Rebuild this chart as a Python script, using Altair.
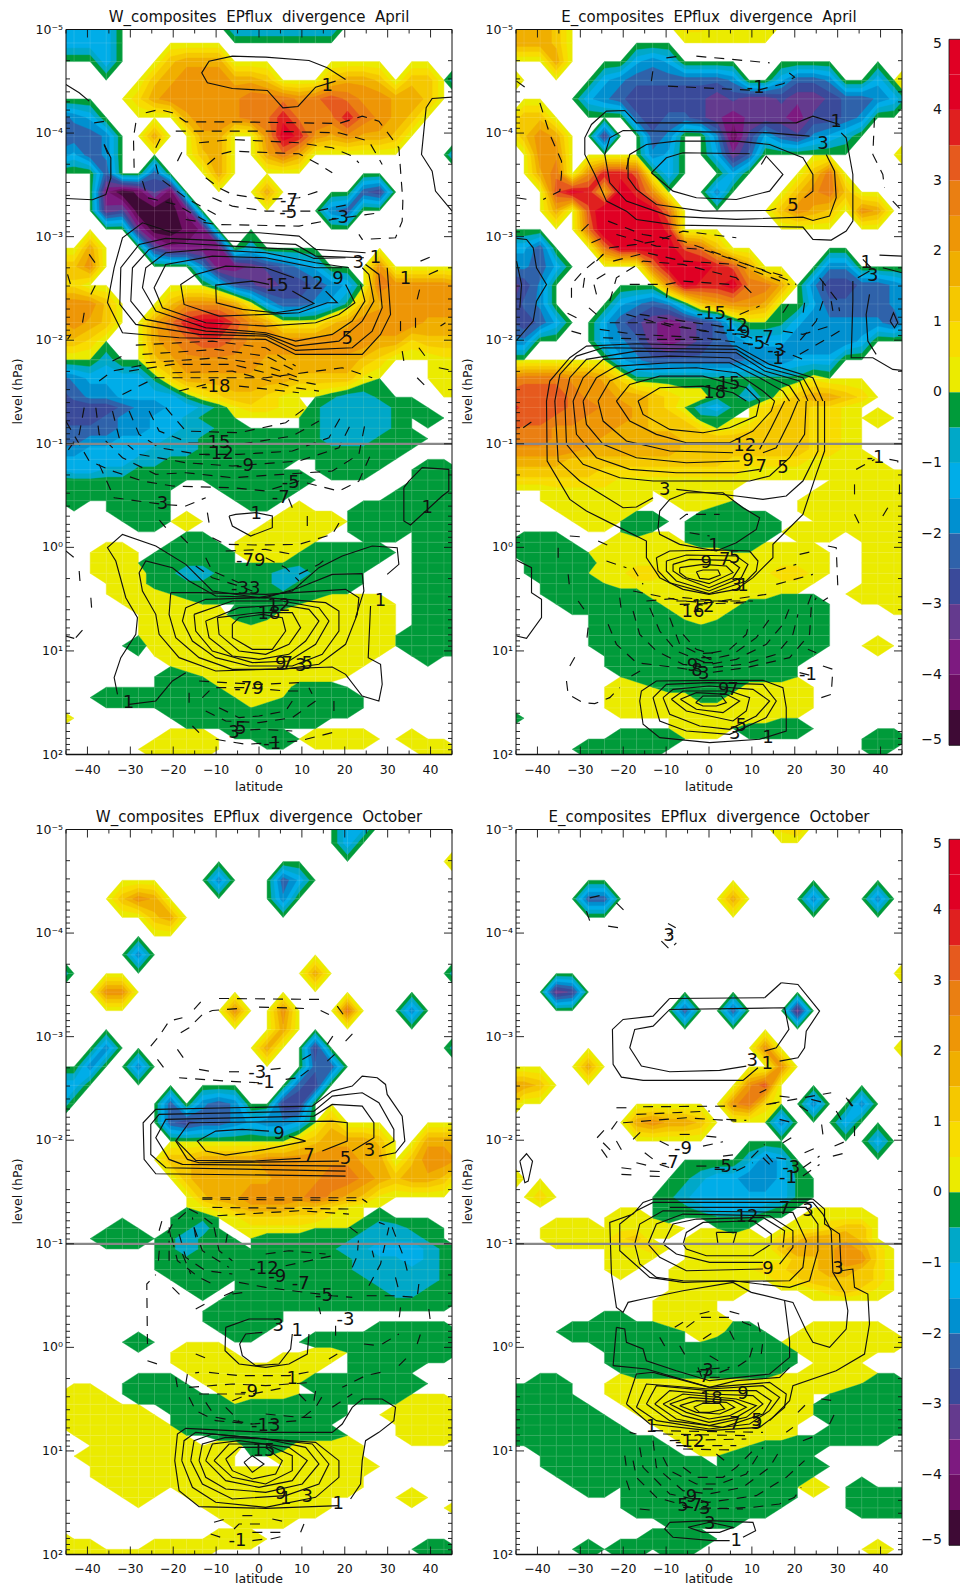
import altair as alt
import pandas as pd

alt.data_transformers.disable_max_rows()

# ---------- grid of the field ----------
LATS = [-46.875,-43.125,-39.375,-35.625,-31.875,-28.125,-24.375,-20.625,-16.875,-13.125,-9.375,-5.625,-1.875,
        1.875,5.625,9.375,13.125,16.875,20.625,24.375,28.125,31.875,35.625,39.375,43.125,46.875]
LEVS = [-5.05,-4.87,-4.69,-4.51,-4.33,-4.15,-3.97,-3.79,-3.61,-3.43,-3.25,-3.07,-2.89,-2.71,-2.53,-2.35,-2.17,-1.99,-1.81,-1.63,-1.45,
        -1.35,-1.25,-1.15,-1.05,-0.95,-0.85,-0.75,-0.65,-0.55,-0.45,-0.35,-0.25,-0.15,-0.05,0.05,0.15,0.25,0.35,0.45,0.55,0.65,0.75,0.85,0.95,
        1.05,1.15,1.25,1.35,1.45,1.55,1.65,1.75,1.85,1.95,2.05]

# one character per grid point: . = not significant, 1-9,a = positive half-unit band, A-J = negative half-unit band
GRID_A = [
"CCCC.......CCCCCCC........","CCCC......................","...C...3444...............","......34555443...3443.33.C",
".....2455555666567655443..","EDC.....455566866686543...","EEED..4..44..598545443....","DCED.....34..464.........D",
"...E..E...4...............","...HJIFI.....4.....EF.....","...GFJJJH........DE.......",".....GJJIH................",
"..4...FHHHH.B.............","335......DHHGFEDC...5.....","22........BEFGFFEDC.655554","5553...355541CEEDCA3455555",
"4543..46899754111345555444","332...45677655555555442333","...B..345555544444432...11","EDCCCCA2444444433331....11",
"FEDDCCCCA123321..ABBA.....",
"FFFFEDDCCBA12211ABBBBAA...","FFFEDDCCBAA.....ABBBBA.A..","EEEEDDCCBBAA....ABBBBA....","EEDDCCCBBAAAAAAAABBBAAA...",
"DDCCCCBBBAAAAAAAAAAAAA....","CCCCCBBAAAAAAAA..AAAA.....","BCCBBAAAAAAAAA...AAA...AA.","AAAAAAAA..AAAAAA.......AAA",
"AAAAAAA....AAAA.......AAAA",".A..AAA.....AA.......AAAAA","....AAA........1...AAAAAAA",".....AA.1.....1111.AAAAAAA",
".............1111..AAA.AAA","........AA..1111.......AAA","...11..AAAA.111.AAAAA..AAA","...11.AAAAA....AAAAA...AAA",
"...111AABBAAAABBAAA....AAA","....11AAAAAAAABAAAA....AAA","....111.AAAAAAAAA......AAA",".....1111...AAA.11111..AAA",
"......11111AAA1111111..AAA","......111111.11111111..AAA","......111111111111111.AAAA",".....A111111111111111.AAAA",
".......1111111111111...A..","........11111111111.......",".......AA.11111111........",".......AAA.1111AAA........",
"...AAAAAAAA.11.AAAA.......",".......AAAAA.AAAAAA.......","1.......AAAAAAAAA.........","...........AAA............",
".......111...AA.1111..1...","......1111.............11.","..........................",
]
GRID_B = [
"4443.......221111.........","4443......................","...4....CDC...............","2.....CDEEEEEED..CEED..C.2",
".....CDEFFFFFGFGGFGGFEEDC.",".33.....EFEEFGHGGGHFFED...",".354..F..ED..DIFCEFDCB....","..55.....DC..CGE.........2",
"..46.5887.C...C....36.....","...7984985...D....3563....","...4.7aa996......3543.54..",".....6aa998...............",
"CCE...69999763............","DDEC.....6999874....DD....","GFD.......59889664.DFFEEDC","GED....CDEDA34554..CEEEEDC",
"EFEC..CEFGHGFEB..ACDDDDDEC","DD....CDEGHGFEDCCCDDDDC...",".......CDEEEEEEDDDCCC.....","56665542AAAAAAAAAAA1......",
"7777655443211AABA134432....",
"87776655432.BCA.233221....","777665554332AA..233221.1..","7665555443332.12333221....","6665554444433333333221....",
"5555544444433333333221....","44443333333333222221111...","333333222222222111111111..","222222211111111......11111",
"...111111.1111......111111","...111111..111.....1111111","....1111.....AA....1111111",".....11.AA..AAAAA...111111",
"........A...AAAAA.111.1111",".AAA...1111.AAAA.......111",".AAAA.11111111..1111...111","..AAAA11111111111111...111",
"..AAA.11221111111221...111","...AAA.111111111111....111","...AAAAAA11111111.....1111","....AAAAAA11111AAAAA....11",
"......AAAAA111AAAAAA......","......AAAAAA.AAAAAAA......","......AAAAAA.AAAAAAA......","......AAAAAAAAAAAAAA...1..",
".......AAAAAAAAAAAA.......",".......AAAAAAAAAAA........","........AAAAAAAAAA........",".......11.AAAAA1111.......",
".......11111AA11111.......",".......111111111111.......","A..........111111.........","...........111.AAAA.......",
".......AAAA............AA.",".....AAAAA.............A..","..........................",
]
GRID_C = [
"..................CC......","..................C.......",".........................2","..........D...EC..........",
"....354.......D...........","......34..................","..........................",".....D....................",
"C...............4........C","...55.....................","...........5..5...6...D...","..............4...........",
"...D.........4..F........C","..D..D..........EE........","CC.............EF.........","C......E.DED..FF..........",
".......EFEEDCDDC.3........","...............234443..444",".......33444455555544.3554","........34444455566543443.",
".........344555565431.....",
".........1234443321.......","........AA.12222211.A.....","....A...AB..1111...ABBAA..","...AAA.ABAA..AAAAAABBBBA..",
".......ABAAA.AAAAABBCCCBA.",".......AAAAA.AAAAAABBBCBA.",".......AAAA.AAAAAAABBBBBA.","........AAA.AAAAAAAABBBBA.",
".........A..AAAAAAAAABBAA.","...........AAAAAAAAAAAAAA.","..........AAAA............","..........AAAA............",
"...........AA.......AAAAA.",".....A..........AAAAAAAAA.","........111.....11.AAAAAA.","........1111..111..AAAA...",
".........1111111...AA.....",".....AAA..11111.AAAAAAA...",".11..AAAA..1111..AAAAA....","1111...AAAA.AAAAAA....111.",
"111111..AAAAAAAAAA...1111.",".111111.AAAAAAAAA.....111.","..111111..AAAAAAAA....111.","...111111.11AAA1111.......",
"..111111.11...11111.......","...11111111.....1111......","...1111111111111111.......","....111.11111111111.......",
".....1...11111111.....1...","..........1111111........1","...........1111...........","..........................",
"1.........111.............","111...1111.............AA.","11111111..................",
]
GRID_D = [
".................23.......","..........................","..........................","..........................",
".....EE.......4....D...D..","..........................","..........................","..........................",
".........................3","...GF.....................","...........E..E...G.......","..........................",
"................5........3",".....4...........5........","443............57.........","3.............562..D..D...",
"........45443....D...C....",".......................C..","...............BDC........","2..........ABCCDDCA.......",
"..2.......ABCCCCCCA.......",
"..........AABCCCBA........",".......11.A..AAA...1111...","...111.1111...A...11233...","...111123...1111.234443...",
".......112..1111.3444542..",".......11...111111334552..",".......1...1111122334432..","...........1111..2233332..",
"...........1111....12321..","..........111.............","..........111.............","......AA..1111............",
"....AAAAAAA.11AA...11111..","......AAAAA..AAAA.1111111.",".......AAAAAAAAAAA.1111...",".......AAAAAAAAAAA..11....",
"........AAAAAAAAA..1111...","..AA...111111111111111.AA.","AAAA...111111111111..AAAAA","AAAAA...11111111111.AAAAAA",
"AAAAAA...1111111111.AAAAAA","AAAAAAA...11111111...AAAAA","AAAAAAAA...1111111..AAAA..","..AAAAAAAA..111.AAAA......",
"...AAAAAAAA...AAAAA.......","...AAAAAAAAAA.AAAAAA......","....AAAAAAAAAAAAAAA.......",".....AA.AAAAAAAAAA.1..A...",
"........AAAAAAAAAA....AAAA","........AAAAAAAAA.....AAAA","..........AAAAA...........","...........A..............",
".........AAAA.............",".....A.AA.AA...........1..","..........................",
]

BAND_POS = ["#EBEB00","#F8DC00","#F5C800","#F0AF00","#EE9606","#EA7F12","#E65A1E","#E0201F","#E00024","#E00024"]
BAND_NEG = ["#009B3A","#00A8C8","#00ADE8","#0090D0","#2F62AA","#3A4A9A","#643A8E","#7D1A80","#6D0E63","#3E0A35"]
LEVELS = [0,0.5,1,1.5,2,2.5,3,3.5,4,4.5]

# ---------- digitised contours: X, Y pairs ----------
A_SOLID = [
[1040,235,985,200,930,178,800,168,700,165,630,180,608,215,625,245,700,262,805,268,852,320,897,316,950,258,1010,240],
[1360,288,1300,292,1282,320,1268,460,1300,510,1310,570,1360,630],[200,250,240,275,270,300],
[200,592,280,596,320,580,335,530,335,470,315,430],
[1100,755,950,745,900,705,780,695,520,695,430,665,370,710,345,800,325,905,370,995,540,1010,800,1015,890,1060,1090,1060,1145,1000,1175,940,1165,800],
[1095,770,950,765,890,730,700,720,500,712,420,730,365,800,362,910,410,970,600,1000,800,1005,890,1048,1060,1040,1120,990,1150,920,1140,820,1100,790],
[1040,770,945,772,880,745,700,735,520,725,450,745,400,800,395,900,440,955,620,990,800,1000,890,1035,1020,1020,1090,960,1125,900,1110,820,1090,800],
[1050,800,950,785,800,755,620,745,500,755,440,800,430,860,470,930,620,980,800,995,890,1020,1000,1000,1060,960,1098,900,1085,850],
[1030,800,950,800,800,770,640,765,500,790,465,860,490,920,620,965,800,975,950,965,1020,940,1068,905,1040,850],
[885,830,800,800,680,795,590,820,545,850,555,910,660,945,800,940,900,935,985,905,1015,905,980,870],
[810,850,760,840,650,852,652,905,730,925,830,935,900,925,945,907,880,870],
]
A_DASH = [
[410,365,403,410,405,500],[440,335,480,325,520,335,560,362,700,362,900,365,1020,367,1090,345,1140,360,1200,440,1212,600,1210,660,1190,710,1090,715,1080,700],
[530,390,800,390,1020,395,1110,420,1150,490],[600,425,700,415,900,425,1000,440,1060,465,1080,485],[625,490,660,460,700,450,900,458,960,490,1000,515],
[535,480,550,450],[470,440,490,400],[620,530,660,560,700,580,800,595,900,590,975,565],[640,590,700,615,800,630,950,630,1050,610],
[560,655,650,670,900,675,1000,655,1140,635],[285,365,320,360],[315,430,330,470],[430,540,445,590,530,610,620,660],[470,490,480,530,560,590,650,640],
[270,760,295,795],[275,880,290,850],[255,935,250,965],[205,1015,215,1000],[205,820,220,870],[1265,780,1300,765],[1290,820,1335,800],[1255,895,1265,855],
[1205,960,1205,1000],[1250,950,1250,985],[1325,975,1340,965],[1260,1040,1290,1080],[1210,1050,1215,1080],[1320,1100,1360,1108],
[410,1032,640,1020,800,1040,890,1095],[430,1060,650,1045,800,1065,890,1110],[440,1085,660,1070,790,1090,900,1130],[390,1110,520,1090,700,1090,900,1140,950,1150],
[340,1080,380,1060],[520,1115,700,1110,890,1160,960,1170],[300,1140,340,1110,440,1090],[370,1180,470,1130,590,1130,800,1130,1030,1100,1120,1130],[540,1170,620,1150],[720,1155,900,1175],[1255,1130,1290,1165],
]
A_SOLID_L = [
[355,880,345,830,365,770,410,700,415,650,380,590,350,480,325,440,370,400,470,435,560,490,640,570,780,590,880,570,960,500,1030,465,1120,435,1195,440,1200,490,1165,520],
[420,515,440,480,520,500,570,540,650,585,800,590,900,560,1000,520,1090,518,1095,570,1070,650],
[420,515,430,570,470,640,480,700,540,770,650,810,800,805,1000,798,1040,820,1090,885,1140,900,1150,850,1145,790,1108,770,1115,615],
[515,575,510,640,530,710,600,770,700,805,850,805,960,790,1040,730,1075,640,1080,590,1040,565,800,580,600,575,515,575],
[560,620,550,660,580,720,650,770,750,795,880,795,970,760,1020,690,1020,630,980,605,800,590,620,595,560,620],
[585,640,590,690,640,750,760,785,870,780,950,730,990,660,960,620,850,600,700,600,585,640],
[620,660,630,710,700,765,780,775,870,760,920,720,960,660,930,625,850,612,720,620,620,660],
[655,650,660,700,720,750,800,760,870,730,905,680,880,635,780,635,655,650],
[700,670,700,710,760,745,820,745,860,690,850,650,790,640,720,650,700,670],
[690,345,700,375,755,405,820,380,820,345,770,335,710,340,690,345],
[1215,260,1215,360,1235,372,1330,285,1350,270,1350,205,1270,200,1230,240,1215,260],
[390,910,470,900,520,840,560,815],
]
A_DASH_L = [
[255,20,240,100,205,150],[200,60,270,180,340,210,430,240,520,255,700,260,800,270,900,240,1020,270,1080,240,1120,150],
[290,20,300,100,370,170,470,220,560,215,700,230,850,220,1000,210,1080,160,1100,60],[340,30,360,110,420,160,560,185,700,195,900,180,1020,140,1060,60],
[390,30,420,100,480,140,600,160,720,160,880,150,990,110,1030,40],[450,30,480,90,570,125,720,130,880,105,960,60],[500,20,560,90,720,95,860,65,920,20],
[300,190,345,290,490,310,560,315,620,290],[200,450,225,470],[240,510,243,550],[275,590,278,630],[230,710,265,670],[200,705,225,712],[500,380,475,350],
[545,405,575,435],[625,335,630,365],[640,410,680,430,780,432,900,430,1000,400,1030,350],[880,320,860,270],[925,345,925,385],[680,450,800,445,880,460],
[590,495,640,530,720,555,760,570],[620,470,640,510,720,545],[900,520,960,490,985,470],[800,470,860,500,900,540],
[600,840,680,845,780,850,900,845],[610,890,640,860,740,860,860,870,900,870],[570,875,570,915],[620,930,680,960,780,965,880,950,950,900,930,860],
[660,920,720,950,780,945,860,930,880,900],[580,975,600,995],[650,1015,740,1030,900,1020,1000,995],[1005,900,1005,940],[700,990,780,985,880,990],
]
B_SOLID = [
[1110,370,1030,345,980,365,800,365,500,365,465,328,410,330,365,370,345,410,345,460,375,520,410,600,470,630,500,655,620,672,1000,678,1030,715,1085,717,1130,690,1150,660,1150,520,1130,410,1115,395],
[1020,405,900,395,700,392,460,388,420,410,405,460,420,545,470,600,600,645,800,655,1000,648,1030,658,1080,645,1100,590,1095,510,1070,460],
[470,505,480,460,530,430,620,420,800,420,900,430,1000,470,1030,520,1030,570,1005,590],[475,470,475,530,500,565,560,610,700,630,900,628,920,622],
[545,515,590,470,640,455,840,458],[545,515,610,570,680,590,800,595,900,570,940,520,890,465,875,490],
[140,712,170,715,190,740,200,800,230,850,200,900,190,960,140,1018],[140,780,155,850,150,920],
[1150,840,1150,900,1145,1070,1210,1070,1270,1105,1298,1108],[1200,880,1190,940,1195,1020,1220,1060],[1165,830,1200,810],[1262,960,1272,935,1285,965,1275,980,1262,960],
[1180,775,1205,800],[1230,762,1298,765],[1240,800,1298,815],
[230,1200,240,1140,300,1070,350,1035,500,1028,800,1035,900,1090,1030,1130,1060,1200],[255,1200,270,1120,320,1065,400,1040,800,1045,890,1100,1000,1130,1040,1200],
[285,1200,300,1130,350,1075,500,1050,800,1055,885,1110,990,1140,1015,1200],[310,1200,340,1130,400,1075,600,1065,780,1070,880,1120,960,1155,990,1200],
[340,1200,380,1130,440,1095,600,1085,780,1085,870,1130,940,1170,960,1200],[385,1200,420,1140,500,1105,680,1100,800,1115,880,1170,915,1200],
[440,1200,480,1150,570,1125,700,1125,830,1160,870,1200],[505,1200,570,1160,700,1155,790,1175,830,1200],
]
B_DASH = [
[590,170,630,165],[680,165,900,185],[545,240,550,205],[595,255,860,268,940,248,975,228,945,205],[140,240,175,265],[210,305,240,400,275,480,275,520,270,570,220,595],[140,590,175,595],
[1215,350,1210,460,1240,520,1245,560],[1270,600,1298,630],[335,690,360,665],[365,725,400,710],[380,780,420,740,500,730,560,720,640,690,800,710],
[415,660,520,700,640,720,780,770,950,835,980,850],[440,700,560,735,700,745,860,800,960,830],[430,780,530,755,640,780,800,790,960,850],
[305,890,305,850,340,810,400,760],[340,860,345,825],[380,880,370,840,420,810],[420,900,440,830,520,780,640,790,800,830,860,890],[480,850,590,850,640,840,780,850],
[590,890,595,850],[810,940,870,915],[940,935,960,905],[1005,905,1000,940],[320,950,280,930],[305,990,340,1000],[380,940,340,905],
[390,985,500,1000,700,1010,850,1030],[400,1010,560,1015,760,1015],[470,940,600,975,800,1000],[420,965,580,965,700,990,820,1000],[510,940,640,960,750,975],
[940,990,1000,1000,1080,975],[1050,830,1105,900,1110,930],[1060,840,1060,880],[1060,900,1040,960,990,1020],[1085,900,1090,930],[1110,990,1060,1020,990,1060],[820,1000,1000,1075],
]
B_SOLID_L = [
[230,0,232,180,300,295,350,330,430,370,530,420,530,470,570,530,640,565,718,580,800,565,850,530,880,500,910,470,910,430,1000,340,1040,220,1065,150,1065,0],
[255,0,265,180,330,240,460,320,500,318,550,290],[620,265,800,285,880,295,950,285,1000,240,1045,150,1045,0],
[285,0,290,130,340,190,450,230,550,240,700,240,840,240,900,225,960,170,1005,100,1010,0],[310,0,320,100,380,170,480,205,620,215,800,215,870,205],
[340,0,350,70,400,130,500,170,650,185,810,180],[985,0,960,60,920,140,880,155],[385,0,400,60,470,120,600,150,790,155],[945,0,905,80,870,145],
[440,0,480,60,560,100,650,125,780,125,850,90,905,30,915,0],[505,0,520,40,600,85,700,95,780,80,860,45,870,0],
[565,380,570,330,600,295,650,275,760,275,820,320,870,350,860,385,800,425,740,450,630,430,570,400,565,380],
[140,478,185,500,185,575,215,595,215,650,170,712,140,705],
[560,470,600,450,760,447,840,450,865,480,860,510,830,540,718,578,600,545,565,510,560,470],[590,480,650,462,800,465,835,490,815,530,718,570,620,540,590,510,590,480],
[610,490,660,475,780,478,810,500,790,530,718,560,640,530,610,510,610,490],[630,500,700,490,770,495,790,515,718,548,650,530,630,515,630,500],[680,512,700,507,745,507,752,522,718,535,690,532,680,512],
[510,900,515,870,560,840,718,838,880,838,940,860,950,920,950,990,870,1015,720,1025,570,1010,520,970,510,900],[550,890,590,850,718,845,880,850,920,900,890,950,780,1000,650,990,570,960,550,890],
[580,890,610,865,718,855,850,865,900,900,860,945,780,985,690,975,600,940,580,890],[605,895,640,870,780,870,840,890,830,930,790,960,650,930,605,895],
[632,895,680,875,770,880,810,900,760,935,680,925,632,895],[678,905,700,885,755,885,770,905,740,915,700,915,678,905],
]
B_DASH_L = [
[160,80,195,55],[1160,205,1215,175],[1260,175,1285,180,1285,200],[1155,250,1155,290],[1155,340,1170,370,1190,365],[1240,345,1255,320],[1290,250,1290,290],
[630,355,650,340,750,340],[660,395,720,405],[300,405,340,408],[385,420,430,440],[410,480,470,500],[490,500,520,550],[265,440,265,480],[295,520,300,565],[325,600,350,635],
[1075,435,1100,440,1105,560],[990,460,1035,450],[920,510,980,490],[920,550,1030,520],[1015,610,1030,570],[1060,600,1075,590],
[490,570,640,600,720,605,890,580],[530,600,640,590,800,605,850,600],[620,600,850,600],[630,610,840,605],[450,590,455,630],[355,680,350,725],
[415,670,440,730,500,785,620,800,720,815,830,800,960,770,1020,700,1025,620,1040,590],[490,630,510,700,560,750,640,790,720,800,820,790,920,760,970,700,985,640],
[540,620,570,690,620,750,720,790,800,775,890,730,940,670,960,620],[600,650,630,730,720,775,790,760,860,710,910,640],[640,700,680,745,720,757,780,745,830,700,840,660],
[700,757,748,755],[695,770,750,770],[700,785,750,785],[300,795,320,760],[290,840,295,880,340,905,375,908,420,890,450,860],[485,825,520,805],
[990,815,1030,825],[1060,795,1090,805,1085,880,1040,895],[1015,745,1040,755],
]
C_SOLID = [
[1040,1125,470,1118,435,1075,432,965,470,925,940,915,1000,870,1060,855,1090,825,1135,830,1160,850,1165,880,1210,945,1218,1020,1190,1055,1140,1065],
[1040,1110,500,1100,455,1060,455,970,480,940,945,930,1000,885,1090,875,1140,905,1185,985,1185,1020,1150,1040],
[1040,1095,550,1090,510,1075,470,1010,500,955,945,945,1000,910,1090,915,1125,965,1125,1010,1060,1050],
[1020,1080,600,1085,565,1075,530,1020,570,965,1000,960,1045,965,1045,1020,970,1050],[905,1072,760,1080,590,1078,533,1020],
[810,990,730,985,650,990,595,1020,620,1050,680,1062,800,1045,920,1020,870,1005],
]
C_DASH = [
[585,625,610,597],[660,592,975,595],[1015,615,1040,650],[1040,720,1070,688],[985,730,1005,700],[905,825,945,795],[860,835,900,830],[780,845,680,840,540,830],[475,775,500,808],[455,735,480,705,510,660,550,650],
[545,695,570,680,610,640,640,628,720,622],[780,618,915,622],[965,628,990,640],[910,775,945,755],[985,780,1010,757],[815,805,860,800],[690,812,740,812],[600,805,640,812],[535,745,560,780],
[610,1190,1090,1190],
]
C_SOLID_L = [
[680,400,750,375,830,375],[680,400,678,470,720,510,800,520,870,510,925,480,930,420],[790,415,740,420,722,450,730,485,770,515,840,510,875,465,880,420],
[1020,935,800,943,600,938,540,890,527,800,535,720,560,703,800,715,1000,715,1030,690,1060,640,1090,615,1150,615,1190,640,1185,680,1140,715,1100,740,1090,800,1085,870,1055,915],
[548,800,555,740,590,715,800,735,950,745,1020,800,1020,850,950,910,800,940,650,925,580,880,548,800],[575,800,585,740,640,720,800,735,940,750,990,810,960,870,860,905,700,915,610,870,575,800],
[600,800,610,750,680,730,800,735,920,760,960,810,910,870,800,895,680,885,620,850,600,800],[620,800,640,750,720,740,870,760,925,800,880,860,780,880,680,860,620,800],
[645,800,690,750,800,750,880,785,880,830,800,870,700,850,645,800],[680,795,720,760,800,760,850,800,830,840,760,855,700,830,680,795],[735,805,760,785,795,810,760,835,735,805],
]
C_DASH_L = [
[610,15,1100,20],[640,40,1060,45],[655,65,900,50,1050,60],[1090,15,1105,25],[480,110,490,75],[510,100,515,130],[478,200,482,150],[510,200,510,140],[550,180,575,240],[590,130,580,70],
[445,450,443,270,470,242],[520,280,545,305],[590,345,635,320],[675,305,720,285],[700,300,735,295],[560,55,520,90,500,130],[640,90,600,60,570,45],
[518,130,535,200,600,250,640,270],[540,120,560,190,620,230,700,240],[585,100,610,170,690,220],[645,100,660,170,700,200],[685,120,680,150],
[1290,345,1295,385],[1205,340,1200,380],[1260,270,1255,310,1180,305,1100,305],[1110,275,1145,210,1170,100],[1120,170,1125,190],[1190,250,1200,290],[1225,230,1215,190,1180,100,1140,85],[1060,220,1075,185,1080,120,1040,90],
[800,180,870,170,980,180],[860,215,1000,185],[720,265,800,280,1000,305,1060,310],[960,340,965,360],[1010,425,1010,385],[1150,450,1200,420],[1095,450,1140,455],[1255,450,1265,420],[1200,515,1225,490],[990,495,1015,480],
[1145,535,1100,545,1030,580],[560,570,565,540,600,535],[445,500,490,515],[590,480,640,500],[630,535,720,545,870,545,950,530],[570,580,700,570,800,575,940,565],[600,600,760,600,860,580],[700,620,750,600],
[530,550,535,580],[570,610,590,650,650,680,760,690,900,680,950,640,980,590],[620,625,650,670,760,690],[680,640,720,680],[800,660,900,670,950,670],[900,600,930,630],[945,620,950,590],[1000,640,1030,620,1060,600],
[645,985,680,975],[730,965,770,965],[820,975,865,985],[705,1005,720,990,800,990],[760,1015,850,1015],[905,1015,915,990],[635,1020,680,1035],[760,1040,800,1035],[815,1035,860,1025],
]
D_SOLID = [
[935,545,985,550,1050,630,1010,690,1005,740,985,770,930,780],[885,590,935,545],[600,592,885,590],[600,592,550,645,460,655,428,685,430,790,455,828,520,838,820,838,865,800],
[885,750,920,740,958,685,945,620,600,625,550,675,495,685,480,740,515,795,600,812,750,808,830,795],[150,1080,170,1058,188,1080,175,1140,165,1145,150,1080],
]
D_DASH = [
[360,290,405,280],[440,305,470,335],[350,330,360,360],[415,375,460,382],[595,367,618,380],[575,420,600,445,620,425],[595,405,610,395],
[440,920,470,920],[520,917,800,915],[900,908,1085,875],[1135,895,1150,915],[382,1010,410,980],[425,985,450,950],[460,965,650,950,800,960],[500,940,720,930],[490,1015,520,985],[570,1020,600,1035],[630,1000,670,1000],[710,1005,760,1010],[700,1035,760,1022],
[400,1025,425,1050],[440,1020,460,1055],[395,1045,420,1080],[525,1055,555,1078],[500,1085,540,1095],[570,1090,600,1100],[455,1100,495,1105],[455,1120,495,1122],[540,1110,590,1112],[540,1125,590,1127],[680,1095,720,1095],[735,1105,800,1105],
[760,1065,800,1060],[800,1110,850,1085],[845,1070,885,1030],[890,1060,915,1090],[880,1070,900,1090],[920,1070,955,1075],[940,1025,965,1010],[1000,1125,1050,1090],[1000,1100,1050,1065],[1005,1055,1040,1040],[1090,1065,1130,1055],[1095,1035,1130,1020],[1060,1000,1055,960],[1100,930,1120,965],[1155,975,1155,1020],[1130,890,1150,920],[1025,895,1065,905],[990,915,1015,930],[930,955,970,965],[770,955,830,958],
[930,885,975,890],[890,910,930,905],[870,875,890,865],
]
D_SOLID_L = [
[550,15,520,25,490,60,420,85,425,240,440,340,460,355,475,325,520,315,640,290,790,265,845,295,970,325,1010,410,1030,445,1080,460,1130,405,1135,350,1125,295,1090,235,1085,110,1060,60,1030,25,550,25,500,50,450,90,450,170,540,250,640,265,790,260,870,270,960,280,1020,260,1045,170,1045,90,1010,40,600,40],
[1065,45,1030,15,550,15],[1065,45,1065,90,1110,120,1115,230,1150,225,1155,280,1195,300,1200,390,1185,480,1100,530,970,575,960,620,920,660,900,680],
[495,150,510,90,580,50,970,55,1010,140,1000,220,960,260,800,262,640,260,560,250,510,210,495,150],[535,150,560,90,640,60,900,65,970,110,970,160,930,210],[880,225,650,230,570,190,535,150],
[580,150,610,90,680,75,880,70,945,110,940,160],[880,205,720,205,620,180,580,150],[640,150,650,115,700,85,850,80,905,120,905,150,850,185,710,185,650,165,640,150],[740,115,800,115,790,150,745,150,740,115],
[440,400,465,405,470,445,520,465,530,500,620,530,720,560,900,540,960,490,960,440,945,320],[430,515,440,400],[430,515,530,525,720,580,800,560,930,550,960,520],
[470,630,500,540,550,535,720,580,900,565,950,600,945,640,910,670,870,700,718,710,540,690,470,630],[500,640,530,570,718,585,880,575,930,610,900,650,840,690,718,705,560,680,500,640],
[530,630,560,575,718,590,860,590,905,620,880,660,760,700,600,680,530,630],[555,630,600,590,718,600,850,605,880,630,830,670,718,695,620,675,555,630],
[580,630,640,600,800,615,860,635,800,670,718,685,640,665,580,630],[600,630,660,610,790,620,830,640,780,665,718,675,650,655,600,630],[630,635,680,620,770,625,795,640,750,660,680,655,630,635],[672,640,700,628,750,628,765,645,720,655,690,655,672,640],
[600,985,720,980,850,985,858,1010,820,1030],[600,985,585,1005,610,1030,730,1040,780,1040],[655,1000,700,1015,750,1015,790,1000,720,985,655,1000],
]
D_DASH_L = [
[615,400,640,385],[650,400,690,370,790,370],[690,360,720,352],[780,352,810,360,820,385,860,400],[865,385,872,415],[700,435,730,415],[780,410,795,440,800,450],[720,485,745,500,760,490],[570,430,590,465],[630,455,650,490],[840,490,855,440],[875,480,880,440],[830,500,800,520],
[720,525,780,520],[750,535,790,520],[720,550,770,550],[685,520,700,560],[985,655,1010,630],[950,715,970,700],[1000,740,1040,725],[1080,690,1095,660],[1055,615,1090,620],
[550,710,880,715],[580,720,830,725],[600,740,830,735],[620,755,800,755],[640,765,790,768],[465,785,470,820],[480,715,500,720],[470,860,485,905],
[490,800,500,850,560,910,680,945,718,945,850,940,930,930,975,910,995,880],[510,760,520,820,600,900,718,925,860,905,950,850,1005,800],[550,740,560,820,640,890,718,900,820,880,900,820,930,770],
[580,790,600,830,680,870,750,870,830,840,880,760],[640,820,680,850,760,850,800,820,860,760],[740,780,765,800,765,815],[510,945,560,950],[700,885,740,885],[640,940,820,945],
]

# contour labels: text, X, Y
A_LABELS = [("-7",870,600),("-5",868,635),("-3",1023,652),("1",985,255),("3",1078,785),("1",1130,770),("15",835,855),("12",940,848),("9",1017,835),("5",1045,1015),("-18",650,1158),("1",1220,835)]
A_LABELS_L = [("-15",650,125),("-12",660,160),("-9",738,195),("-5",875,245),("3",490,310),("1",772,340),("-7",845,290),("-79",755,480),("-33",740,565),("12",840,615),("18",810,640),("9",845,790),("7",865,790),("3",905,795),("5",925,790),("-79",750,865),("1",388,905),("1",1145,600),("3",705,995),("5",725,985),("-1",820,1030),("1",1285,320)]
B_LABELS = [("-1",858,262),("1",1100,362),("3",1060,430),("5",970,615),("-15",725,940),("-12",790,975),("9",825,995),("-5",860,1028),("7",895,1010),("-3",920,1050),("1",925,1075),("3",1210,825),("1",1190,785),("15",778,1150),("18",735,1175)]
B_LABELS_L = [("12",825,135),("9",835,180),("7",875,198),("5",940,200),("3",585,268),("1",733,435),("9",710,485),("7",765,478),("5",795,470),("3",800,555),("1",820,555),("12",700,618),("16",670,632),("9",668,795),("8",682,810),("3",702,820),("9",762,868),("7",790,868),("5",815,975),("3",795,1000),("1",895,1012),("-1",1015,822),("-1",1218,172)]
C_LABELS = [("9",840,1000),("7",930,1065),("5",1040,1075),("3",1112,1050),("-3",775,815),("-1",800,845)]
C_LABELS_L = [("-12",795,225),("-9",835,250),("-7",905,270),("-5",975,305),("-3",1040,378),("3",838,397),("1",895,410),("1",880,555),("-9",750,595),("-1",715,1040),("9",845,900),("1",860,915),("3",925,910),("1",1018,930),("-13",800,695),("15",795,770)]
D_LABELS = [("3",848,780),("1",893,790),("-9",640,1045),("-7",600,1085),("-5",760,1098),("-3",965,1100),("-1",955,1130),("3",598,405)]
D_LABELS_L = [("7",945,45),("12",832,70),("3",1015,50),("9",895,225),("3",1105,225),("-3",705,530),("7",705,550),("18",725,615),("9",820,600),("7",795,690),("3",860,690),("5",862,680),("1",545,700),("-12",660,745),("9",665,910),("5",640,935),("7",680,935),("3",705,945),("3",720,990),("1",800,1040)]

NB = "\u00a0\u00a0"
TITLES = [f"W_composites{NB}EPflux{NB}divergence{NB}April", f"E_composites{NB}EPflux{NB}divergence{NB}April",
          f"W_composites{NB}EPflux{NB}divergence{NB}October", f"E_composites{NB}EPflux{NB}divergence{NB}October"]
XTICKS = [-40,-30,-20,-10,0,10,20,30,40]
XLABELS = ["\u221240","\u221230","\u221220","\u221210","0","10","20","30","40"]
XMINOR = [-45,-35,-25,-15,-5,5,15,25,35,45]
YTICKS = [-5,-4,-3,-2,-1,0,1,2]
YLABELS = ["10\u207b\u2075","10\u207b\u2074","10\u207b\u00b3","10\u207b\u00b2","10\u207b\u00b9","10\u2070","10\u00b9","10\u00b2"]
MINOR_OFF = [0.301,0.477,0.602,0.699,0.778,0.845,0.903,0.954]
CB_TICKS = [("5",4.93),("4",4),("3",3),("2",2),("1",1),("0",0),("\u22121",-1),("\u22122",-2),("\u22123",-3),("\u22124",-4),("\u22125",-4.93)]

W, H = 386, 725
EXTRA = 17
BAR = 11
FONT = "DejaVu Sans"
INK = "#111111"
x_scale = alt.Scale(domain=[-45, 45], range=[0, W], nice=False, zero=False)
y_scale = alt.Scale(domain=[-5, 2], reverse=True, nice=False, zero=False)
dx = W / 90 * 3.75
yfrac = H / 7


def decode(c):
    if c == ".":
        return 0.0
    if c == "a":
        return 4.85
    if c.isdigit():
        return int(c) * 0.5 - 0.15
    return -((ord(c) - 65 + 1) * 0.5 - 0.15)


def field_rows(rows):
    """One filled polygon per grid cell and contour level (the part of the cell above that level)."""
    vals = [[decode(c) for c in (r + "." * 26)[:26]] for r in rows]
    vals = (vals + [[0.0] * 26] * len(LEVS))[:len(LEVS)]
    out = []
    for k, L in enumerate(LEVELS):
        for s, bands in ((1, BAND_POS), (-1, BAND_NEG)):
            for i in range(len(LEVS) - 1):
                h = (LEVS[i + 1] - LEVS[i]) * yfrac
                for j in range(25):
                    corners = [(0.0, 0.0, vals[i][j] * s), (dx, 0.0, vals[i][j + 1] * s),
                               (dx, h, vals[i + 1][j + 1] * s), (0.0, h, vals[i + 1][j] * s)]
                    if max(c[2] for c in corners) <= L:
                        continue
                    poly = []
                    for m in range(4):
                        p, q = corners[m], corners[(m + 1) % 4]
                        if p[2] > L:
                            poly.append((p[0], p[1]))
                        if (p[2] > L) != (q[2] > L):
                            t = (L - p[2]) / (q[2] - p[2])
                            poly.append((p[0] + t * (q[0] - p[0]), p[1] + t * (q[1] - p[1])))
                    if len(poly) < 3:
                        continue
                    path = "M" + "L".join(f"{a:.1f},{b:.1f}" for a, b in poly) + "Z"
                    out.append({"lat": LATS[j], "lev": LEVS[i], "p": path, "c": bands[k]})
    return pd.DataFrame(out)


def to_lat(px, x0):
    return (px - x0) / 12.88


def to_log(py):
    return -5 + (py - 85) / 310.8


def lines(upper, lower, x0, off):
    rows = []
    n = 0
    for group, add in ((upper, 0), (lower, off)):
        for c in group:
            n += 1
            for o in range(0, len(c), 2):
                rows.append({"lat": to_lat(c[o], x0), "lev": to_log(c[o + 1] + add), "id": n, "o": o})
    return pd.DataFrame(rows)


def labels(upper, lower, x0, off):
    rows = []
    for group, add in ((upper, 0), (lower, off)):
        for t, px, py in group:
            rows.append({"lat": to_lat(px, x0), "lev": to_log(py + add), "t": t})
    return pd.DataFrame(rows)


def X(**k):
    return alt.X("lat:Q", scale=x_scale, axis=None, **k)


def Y(**k):
    return alt.Y("lev:Q", scale=y_scale, axis=None, **k)


def panel(title, grid, su, sl, du, dl, lu, ll, x0, off, width, lab_y, ttl_y):
    fill = alt.Chart(field_rows(grid)).mark_point(filled=True, size=4, opacity=1, strokeWidth=0.4, clip=True).encode(
        x=X(), y=Y(), shape=alt.Shape("p:N", scale=None),
        fill=alt.Fill("c:N", scale=None), stroke=alt.Stroke("c:N", scale=None))
    gx = alt.Chart(pd.DataFrame({"lat": LATS})).mark_rule(color="white", opacity=0.22, strokeWidth=0.6, clip=True).encode(x=X())
    gy = alt.Chart(pd.DataFrame({"lev": LEVS})).mark_rule(color="white", opacity=0.22, strokeWidth=0.6, clip=True).encode(y=Y())
    solid = alt.Chart(lines(su, sl, x0, off)).mark_line(color=INK, strokeWidth=1.15, clip=True).encode(
        x=X(), y=Y(), detail="id:N", order="o:Q")
    dash = alt.Chart(lines(du, dl, x0, off)).mark_line(color=INK, strokeWidth=1.15, strokeDash=[10, 8], clip=True).encode(
        x=X(), y=Y(), detail="id:N", order="o:Q")
    txt = alt.Chart(labels(lu, ll, x0, off)).mark_text(fontSize=18, font=FONT, color=INK, clip=True).encode(
        x=X(), y=Y(), text="t:N")
    gray = alt.Chart(pd.DataFrame({"lev": [-1]})).mark_rule(color="#888888", strokeWidth=2.2).encode(y=Y(), x=alt.value(0), x2=alt.value(W))

    major_x = pd.DataFrame({"lat": XTICKS, "t": XLABELS})
    minor_x = pd.DataFrame({"lat": XMINOR})
    major_y = pd.DataFrame({"lev": YTICKS, "t": YLABELS})
    minor_y = pd.DataFrame({"lev": [n + o for n in YTICKS[:-1] for o in MINOR_OFF]})
    ticks = []
    for df, ln in ((major_x, 8), (minor_x, 4)):
        ticks.append(alt.Chart(df).mark_rule(color=INK, strokeWidth=0.9).encode(x=X(), y=alt.value(0), y2=alt.value(ln)))
        ticks.append(alt.Chart(df).mark_rule(color=INK, strokeWidth=0.9).encode(x=X(), y=alt.value(H - ln), y2=alt.value(H)))
    for df, ln in ((major_y, 8), (minor_y, 4)):
        ticks.append(alt.Chart(df).mark_rule(color=INK, strokeWidth=0.9).encode(y=Y(), x=alt.value(0), x2=alt.value(ln)))
        ticks.append(alt.Chart(df).mark_rule(color=INK, strokeWidth=0.9).encode(y=Y(), x=alt.value(W - ln), x2=alt.value(W)))
    one = pd.DataFrame({"a": [0]})
    # white mask over the spare strip at the right of the wider panels
    mask = alt.Chart(one).mark_rect(color="white").encode(x=alt.value(W), x2=alt.value(W + 17), y=alt.value(0), y2=alt.value(H))
    frame = [
        alt.Chart(one).mark_rule(color=INK, strokeWidth=1.0).encode(x=alt.value(0), y=alt.value(0), y2=alt.value(H)),
        alt.Chart(one).mark_rule(color=INK, strokeWidth=1.0).encode(x=alt.value(W), y=alt.value(0), y2=alt.value(H)),
        alt.Chart(one).mark_rule(color=INK, strokeWidth=1.0).encode(y=alt.value(0), x=alt.value(0), x2=alt.value(W)),
        alt.Chart(one).mark_rule(color=INK, strokeWidth=1.6).encode(y=alt.value(H), x=alt.value(0), x2=alt.value(W)),
    ]
    xt = alt.Chart(major_x).mark_text(font=FONT, fontSize=12.5, color=INK).encode(x=X(), y=alt.value(H + lab_y), text="t:N")
    yt = alt.Chart(major_y).mark_text(font=FONT, fontSize=12.5, color=INK, align="right").encode(y=Y(), x=alt.value(-3), text="t:N")
    xtt = alt.Chart(pd.DataFrame({"t": ["latitude"]})).mark_text(font=FONT, fontSize=12.5, color=INK).encode(
        x=alt.value(W / 2), y=alt.value(H + ttl_y), text="t:N")
    ytt = alt.Chart(pd.DataFrame({"t": ["level (hPa)"]})).mark_text(font=FONT, fontSize=12.5, color=INK, angle=270).encode(
        x=alt.value(-48), y=alt.value(362), text="t:N")
    ttl = alt.Chart(pd.DataFrame({"t": [title]})).mark_text(font=FONT, fontSize=15, color=INK).encode(
        x=alt.value(W / 2), y=alt.value(-13), text="t:N")
    layers = [fill, gx, gy, solid, dash, txt, gray]
    if width > W:
        layers.append(mask)
    return alt.layer(*layers, *ticks, *frame, xt, yt, xtt, ytt, ttl).properties(width=width, height=H)


cb_scale = alt.Scale(domain=[-5.13, 5.139], nice=False, zero=False)


def colorbar():
    rows = []
    for k, L in enumerate(LEVELS):
        rows.append({"a": L, "b": L + 0.5, "c": BAND_POS[k]})
        rows.append({"a": -L, "b": -L - 0.5, "c": BAND_NEG[k]})
    bars = alt.Chart(pd.DataFrame(rows)).mark_rect(strokeWidth=0).encode(
        y=alt.Y("a:Q", scale=cb_scale, axis=None), y2="b:Q", x=alt.value(0), x2=alt.value(BAR),
        color=alt.Color("c:N", scale=None))
    tx = pd.DataFrame({"t": [t for t, _ in CB_TICKS], "v": [v for _, v in CB_TICKS]})
    text = alt.Chart(tx).mark_text(font=FONT, fontSize=14, align="right", color=INK).encode(
        y=alt.Y("v:Q", scale=cb_scale, axis=None), x=alt.value(-7), text="t:N")
    edge = alt.Chart(pd.DataFrame({"a": [5], "b": [-5]})).mark_rule(color=INK, strokeWidth=0.8).encode(
        y=alt.Y("a:Q", scale=cb_scale, axis=None), y2="b:Q", x=alt.value(0))
    top = alt.Chart(pd.DataFrame({"a": [5, -5]})).mark_rule(color=INK, strokeWidth=0.8).encode(
        y=alt.Y("a:Q", scale=cb_scale, axis=None), x=alt.value(0), x2=alt.value(BAR))
    return alt.layer(bars, edge, top, text).properties(width=BAR, height=H)


pA = panel(TITLES[0], GRID_A, A_SOLID, A_SOLID_L, A_DASH, A_DASH_L, A_LABELS, A_LABELS_L, 780, 1200, W + EXTRA, 15, 32)
pB = panel(TITLES[1], GRID_B, B_SOLID, B_SOLID_L, B_DASH, B_DASH_L, B_LABELS, B_LABELS_L, 718, 1200, W, 15, 32)
pC = panel(TITLES[2], GRID_C, C_SOLID, C_SOLID_L, C_DASH, C_DASH_L, C_LABELS, C_LABELS_L, 780, 1179, W + EXTRA, 14, 24)
pD = panel(TITLES[3], GRID_D, D_SOLID, D_SOLID_L, D_DASH, D_DASH_L, D_LABELS, D_LABELS_L, 718, 1179, W, 14, 24)

chart = alt.concat(pA, pB, colorbar(), pC, pD, colorbar(), columns=3,
                   spacing=alt.RowColnumber(row=75, column=47), bounds="flush").properties(
    padding={"left": 4, "top": 1.5, "right": 0, "bottom": 0}, background="white"
).configure_view(stroke=None)

chart.save("out.html", embed_options={"renderer": "svg", "actions": False})
